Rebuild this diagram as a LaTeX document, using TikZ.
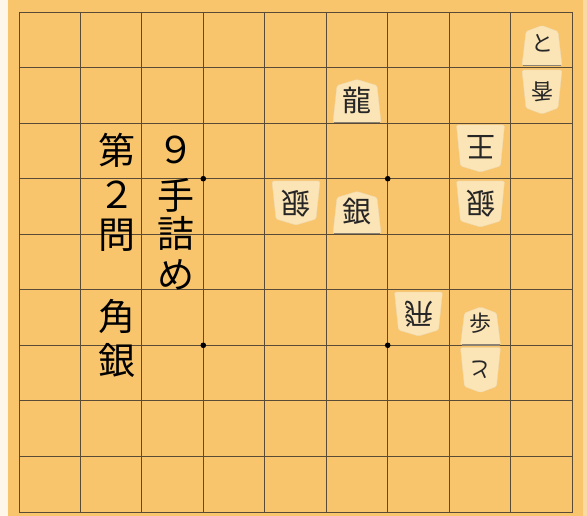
\documentclass[tikz,border=0pt]{standalone}
\usepackage{fontspec}
\newfontfamily\jp{Noto Sans CJK JP}
\definecolor{board}{RGB}{248,197,108}
\definecolor{boardedge}{RGB}{250,232,200}
\definecolor{gridc}{RGB}{90,75,55}
\definecolor{piecefill}{RGB}{251,228,182}
\definecolor{shadowc}{RGB}{140,130,115}
\tikzset{
  gridline/.style={draw=gridc, line width=0.85pt},
  stardot/.style={fill=black},
  bigtext/.style={font=\jp\fontsize{37}{37}\selectfont, inner sep=0pt, text=black},
  bigpiecetext/.style={font=\jp\fontsize{29}{29}\selectfont, inner sep=0pt, text=black!85},
  smallpiecetext/.style={font=\jp\fontsize{22}{22}\selectfont, inner sep=0pt, text=black!85},
  pieceshape/.style={fill=piecefill, draw=piecefill!90!gray, line width=0.4pt, rounded corners=1.5pt},
  pieceshadow/.style={draw=shadowc, line width=1.6pt}
}
% #1 name, #2 x, #3 y of base line, #4 yscale (1 sente, -1 gote), #5 half width, #6 height, #7 text style, #8 rotation, #9 char
\newcommand\shogipiece[9]{%
  \begin{scope}[shift={(#2,#3)}, yscale=#4]
    \fill[pieceshape] (-#5,0) -- ({-#5+4},{-#6+6}) -- (0,-#6) -- ({#5-4},{-#6+6}) -- (#5,0) -- cycle;
    \ifnum#4=1 \draw[pieceshadow] ({-#5+1},0) -- ({#5-1},0);\fi
  \end{scope}
  \node[#7, rotate=#8] (#1) at (#2,{#3-#4*22}) {#9};
}
\begin{document}
\begin{tikzpicture}[x=1pt,y=-1pt]
\useasboundingbox (0,0) rectangle (587,516);
\fill[board] (0,0) rectangle (587,516);
\fill[white!85!board] (0,0) rectangle (8,516);
\fill[boardedge!60!board] (583,0) rectangle (587,516);
% grid
\draw[gridline] (19,12) rectangle (572,512);
\foreach \i in {1,...,8} {
  \draw[gridline] ({19+\i*61.444},12) -- ({19+\i*61.444},512);
  \draw[gridline] (19,{12+\i*55.556}) -- (572,{12+\i*55.556});
}
% star points
\fill[stardot] (203.3,178.7) circle (2.8);
\fill[stardot] (387.7,178.7) circle (2.8);
\fill[stardot] (203.3,345.3) circle (2.8);
\fill[stardot] (387.7,345.3) circle (2.8);
% title text
\node[bigtext] (t1) at (117,150) {第};
\node[bigtext] (t2) at (117,195) {２};
\node[bigtext] (t3) at (117,235) {問};
\node[bigtext] (t4) at (117,316) {角};
\node[bigtext] (t5) at (117,360) {銀};
\node[bigtext] (u1) at (176,150) {９};
\node[bigtext] (u2) at (176,195) {手};
\node[bigtext] (u3) at (176,233) {詰};
\node[bigtext] (u4) at (176,275) {め};
% pieces
\shogipiece{p1a}{542}{65.5}{1}{20}{40}{smallpiecetext}{0}{と}
\shogipiece{p1b}{542}{70}{-1}{20}{44}{smallpiecetext}{180}{香}
\shogipiece{p4b}{357.0}{122.5}{1}{24}{43}{bigpiecetext}{0}{龍}
\shogipiece{p2c}{480.5}{125}{-1}{24}{47}{bigpiecetext}{180}{王}
\shogipiece{p2d}{480.5}{181}{-1}{24}{46}{bigpiecetext}{180}{銀}
\shogipiece{p4d}{357.0}{233.5}{1}{24}{42}{bigpiecetext}{0}{銀}
\shogipiece{p5d}{296.0}{181}{-1}{24}{44}{bigpiecetext}{180}{銀}
\shogipiece{p3f}{418.5}{292}{-1}{24}{44}{bigpiecetext}{180}{飛}
\shogipiece{p2f}{480.5}{345}{1}{20}{38}{smallpiecetext}{0}{歩}
\shogipiece{p2g}{480.5}{347.5}{-1}{20}{45}{smallpiecetext}{180}{と}
\end{tikzpicture}
\end{document}
